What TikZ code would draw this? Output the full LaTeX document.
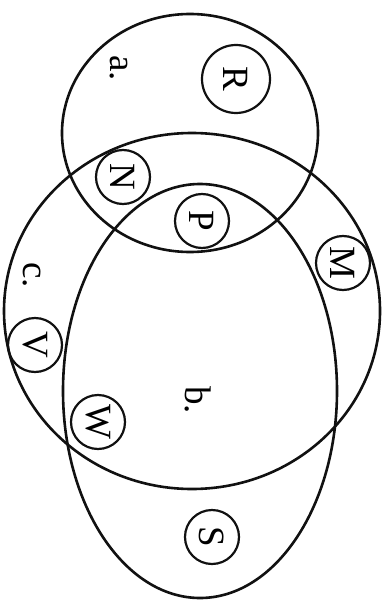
\documentclass[tikz,border=0pt]{standalone}
\usepackage{fontspec}
\setmainfont{Liberation Serif}
\usepackage{tikz}
\usetikzlibrary{positioning}
\definecolor{InkBlack}{HTML}{111111}
\tikzset{
    % Set outlines
    setline/.style={
        draw=InkBlack,
        line width=2.6pt
    },
    % Element circles
    member/.style={
        circle,
        draw=InkBlack,
        line width=2.2pt,
        minimum size=54pt,
        inner sep=0pt,
        rotate=-90,
        font=\fontsize{37}{40}\selectfont
    },
    % Set names
    setname/.style={
        inner sep=0pt,
        rotate=-90,
        font=\fontsize{37}{40}\selectfont
    }
}
\begin{document}
\begin{tikzpicture}[x=1pt, y=-1pt]
    \useasboundingbox (0,0) rectangle (390,604);

    % Sets
    \draw[setline] (190,133) ellipse [x radius=128, y radius=119];
    \draw[setline] (192,311) ellipse [x radius=188, y radius=178];
    \draw[setline] (200,391) ellipse [x radius=137, y radius=207];

    \node[setname] (la) at (119,68) {a.};
    \node[setname] (lb) at (198,400) {b.};
    \node[setname] (lc) at (32,275) {c.};

    % Elements
    \node[member, minimum size=68pt] (R) at (236,79) {R};
    \node[member] (N) at (123,177) {N};
    \node[member] (P) at (202,221) {P};
    \node[member] (M) at (343,263) {M};
    \node[member] (V) at (35,345) {V};
    \node[member] (W) at (98,422) {W};
    \node[member] (S) at (212,537) {S};
\end{tikzpicture}
\end{document}
